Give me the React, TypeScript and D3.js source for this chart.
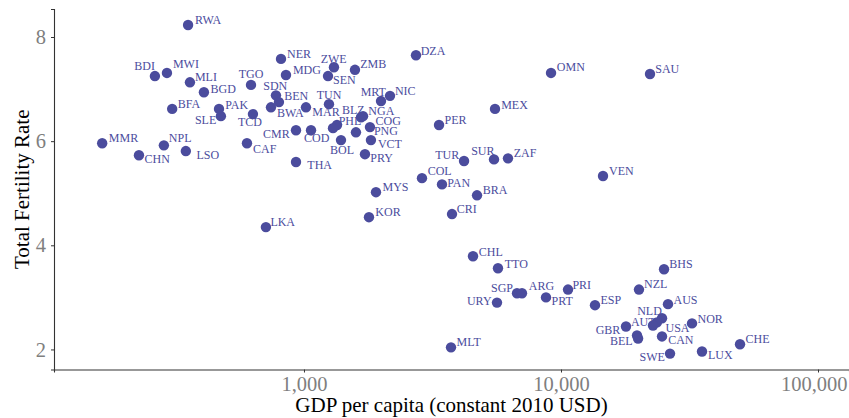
import { useEffect, useRef } from "react";
import * as d3 from "d3";

// country codes, GDP per capita (constant 2010 USD) and total fertility rate
const codes = [
  "RWA", "BDI", "MWI", "MLI", "BGD", "BFA", "PAK", "SLE", "TGO", "TCD",
  "SDN", "BEN", "BWA", "CMR", "CAF", "MMR", "NPL", "CHN", "LSO", "NER",
  "MDG", "ZWE", "SEN", "ZMB", "TUN", "MAR", "COD", "THA", "PHL", "",
  "BLZ", "NGA", "COG", "PNG", "VCT", "PRY", "BOL", "MRT", "NIC", "DZA",
  "LKA", "PER", "MEX", "OMN", "SAU", "TUR", "SUR", "ZAF", "VEN", "COL",
  "PAN", "MYS", "BRA", "KOR", "CRI", "CHL", "TTO", "SGP", "ARG", "URY",
  "PRT", "PRI", "ESP", "MLT", "BHS", "NZL", "AUS", "NLD", "USA", "AUT",
  "GBR", "BEL", "", "CAN", "NOR", "SWE", "LUX", "CHE",
];

const gdp = [
  354, 263, 293, 360, 408, 307, 467, 475, 622, 633,
  778, 799, 744, 931, 600, 164, 285, 228, 347, 814,
  851, 1308, 1240, 1579, 1251, 1018, 1065, 931, 1344, 1297,
  1667, 1697, 1806, 1593, 1822, 1727, 1393, 1994, 2161, 2728,
  711, 3353, 5537, 9146, 22200, 4195, 5487, 6219, 14570, 2878,
  3443, 1906, 4713, 1790, 3767, 4546, 5686, 6743, 7050, 5636,
  8743, 10650, 13560, 3733, 25170, 20110, 26080, 24720, 23630, 22800,
  17900, 19760, 19950, 24720, 32340, 26560, 35370, 49720,
];

const tfr = [
  8.23, 7.25, 7.31, 7.13, 6.94, 6.62, 6.62, 6.48, 7.08, 6.52,
  6.88, 6.75, 6.65, 6.21, 5.96, 5.96, 5.92, 5.73, 5.81, 7.58,
  7.27, 7.42, 7.25, 7.37, 6.71, 6.65, 6.21, 5.6, 6.31, 6.25,
  6.46, 6.48, 6.27, 6.17, 6.02, 5.75, 6.02, 6.77, 6.87, 7.65,
  4.35, 6.31, 6.62, 7.31, 7.29, 5.62, 5.65, 5.67, 5.33, 5.29,
  5.17, 5.02, 4.96, 4.54, 4.6, 3.79, 3.56, 3.08, 3.08, 2.9,
  3.0, 3.15, 2.85, 2.04, 3.54, 3.15, 2.87, 2.6, 2.52, 2.46,
  2.44, 2.27, 2.21, 2.25, 2.5, 1.92, 1.96, 2.1,
];

const xTicks = [1000, 10000, 100000];
const yTicks = [2, 4, 6, 8];

// where each label sits relative to its point (px), like ggrepel placed them
const labelNudge: Record<string, [number, number]> = {
  RWA: [20, -5.5], BDI: [-10.3, -10.5], MWI: [19, -8.5], MLI: [16, -5],
  BGD: [19.3, -3.7], BFA: [16.7, -5.2], PAK: [17.7, -4.3], SLE: [-15.3, 3.8],
  TCD: [-3, 8], TGO: [0, -10.5], SDN: [-0.7, -9], BEN: [17.3, -5.8],
  BWA: [19.3, 5.5], MAR: [20, 5], TUN: [0, -8.7], NER: [18, -4.5],
  MDG: [21, -4.7], ZWE: [-0.3, -8.2], SEN: [16.3, 3.7], CMR: [-19.7, 4],
  COD: [5.7, 8], CAF: [17.7, 5.7], MMR: [21.3, -5.2], NPL: [16.3, -7],
  CHN: [18.3, 3.7], LSO: [22, 3.5], THA: [23.7, 3.5], ZMB: [18.3, -5.5],
  DZA: [17, -4.5], MRT: [-7.7, -9], NIC: [15.3, -4.8], BLZ: [-7.7, -7.7],
  NGA: [18.3, -4.7], COG: [18.3, -5.7], PHL: [13, -3.7], PNG: [30, -1.7],
  VCT: [19, 3.7], PRY: [16.7, 4.3], BOL: [1, 10.3], COL: [17.7, -6.7],
  LKA: [16.8, -4.8], MEX: [19.5, -4.3], PER: [16.5, -5.5], TUR: [-16.8, -5.7],
  SUR: [-11.2, -8.5], ZAF: [17, -5.2], VEN: [18.3, -4.7], PAN: [16.7, -1.2],
  MYS: [19.5, -4.8], BRA: [18, -5.2], KOR: [19, -5], CRI: [14.7, -5.2],
  CHL: [17.8, -4.3], TTO: [18.3, -4.7], SGP: [-15, -5], ARG: [19.5, -7.5],
  URY: [-17.7, -1.7], PRT: [16.2, 3.5], PRI: [13.7, -4.5], ESP: [15.8, -5.5],
  MLT: [17.7, -5], BHS: [17, -5.2], NZL: [16.8, -5.2], AUS: [17.5, -4.5],
  NLD: [-12.5, -6.8], AUT: [-9.7, -3], GBR: [-18, 3.5], USA: [20.5, 6],
  BEL: [-15.8, 5.3], CAN: [18.8, 3.5], NOR: [18.2, -4.7], SWE: [-17.8, 3.2],
  LUX: [18.3, 3.7], CHE: [17.5, -5.3], OMN: [19.8, -5.5], SAU: [17.2, -4.8],
};

const width = 849;
const height = 418;
const serif = "'Liberation Serif', 'Times New Roman', serif";
const pointColor = "#4b4c9d";

export default function App() {
  const svgRef = useRef<SVGSVGElement | null>(null);

  useEffect(() => {
    document.body.style.margin = "0";
    const margin = { top: 9, right: 0, bottom: 48.5, left: 54 };

    const svg = d3.select(svgRef.current);
    svg.selectAll("*").remove();

    const x = d3
      .scaleLog()
      .domain([106.5, 132000])
      .range([margin.left, width - margin.right]);
    const y = d3
      .scaleLinear()
      .domain([1.615, 8.538])
      .range([height - margin.bottom, margin.top]);

    const data = codes.map((c, i) => ({ code: c, gdp: gdp[i], tfr: tfr[i] }));

    // axes
    const xAxis = d3
      .axisBottom(x)
      .tickValues(xTicks)
      .tickFormat((d) => d3.format(",")(d as number))
      .tickSize(3)
      .tickPadding(4);
    const gx = svg
      .append("g")
      .attr("transform", `translate(0,${height - margin.bottom})`)
      .call(xAxis);
    gx.select(".domain").attr("stroke", "#333").attr("stroke-width", 1.1);
    gx.selectAll(".tick line").attr("stroke", "#333");
    gx.selectAll(".tick text")
      .attr("fill", "#7f7f7f")
      .style("font-family", serif)
      .style("font-size", "20.5px");
    // last label is pushed inside the page edge, as in the original
    gx.selectAll<SVGTextElement, number>(".tick text")
      .filter((d) => x(d) + 34 > width)
      .attr("text-anchor", "end")
      .attr("x", (d) => width - 2 - x(d));

    const yAxis = d3
      .axisLeft(y)
      .tickValues(yTicks)
      .tickFormat((d) => d3.format("d")(d as number))
      .tickSize(3)
      .tickPadding(5);
    const gy = svg
      .append("g")
      .attr("transform", `translate(${margin.left},0)`)
      .call(yAxis);
    gy.select(".domain").attr("stroke", "#333").attr("stroke-width", 1.1);
    gy.selectAll(".tick line").attr("stroke", "#333");
    gy.selectAll(".tick text")
      .attr("fill", "#7f7f7f")
      .style("font-family", serif)
      .style("font-size", "20.5px");

    // axis titles
    svg
      .append("text")
      .attr("x", (margin.left + width - margin.right) / 2)
      .attr("y", 412)
      .attr("text-anchor", "middle")
      .style("font-family", serif)
      .style("font-size", "21px")
      .attr("fill", "#000")
      .text("GDP per capita (constant 2010 USD)");

    svg
      .append("text")
      .attr(
        "transform",
        `translate(29,${(margin.top + height - margin.bottom) / 2}) rotate(-90)`
      )
      .attr("text-anchor", "middle")
      .style("font-family", serif)
      .style("font-size", "21px")
      .attr("fill", "#000")
      .text("Total Fertility Rate");

    // points
    svg
      .append("g")
      .selectAll("circle")
      .data(data)
      .join("circle")
      .attr("cx", (d) => x(d.gdp))
      .attr("cy", (d) => y(d.tfr))
      .attr("r", 5.2)
      .attr("fill", pointColor);

    // labels
    svg
      .append("g")
      .selectAll("text")
      .data(data.filter((d) => d.code !== ""))
      .join("text")
      .attr("x", (d) => x(d.gdp) + (labelNudge[d.code]?.[0] ?? 15))
      .attr("y", (d) => y(d.tfr) + (labelNudge[d.code]?.[1] ?? -5) + 4)
      .attr("text-anchor", "middle")
      .style("font-family", serif)
      .style("font-size", "12px")
      .attr("fill", pointColor)
      .text((d) => d.code);
  }, []);

  return (
    <svg
      ref={svgRef}
      width={width}
      height={height}
      style={{ display: "block", backgroundColor: "#ffffff" }}
    />
  );
}
